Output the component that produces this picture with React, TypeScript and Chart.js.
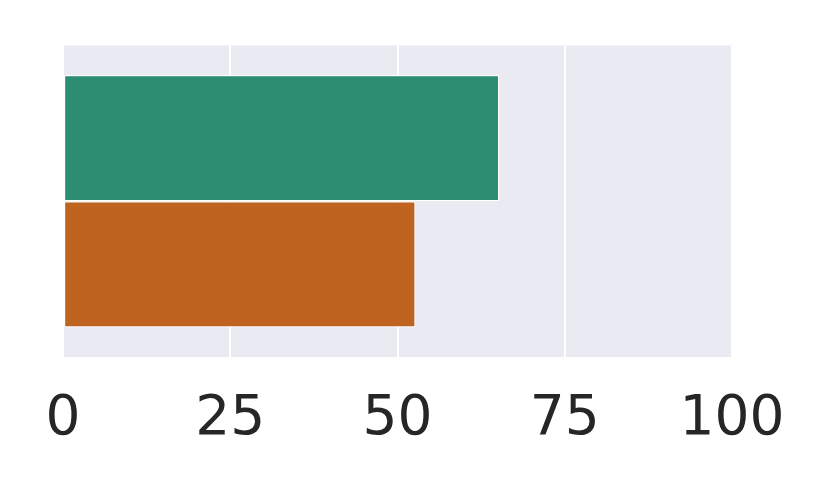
import React, { useEffect, useRef } from "react";
import { Chart, registerables } from "chart.js";

Chart.register(...registerables);

const categories = [""];
const seriesA = [65.2];
const seriesB = [52.7];
const xTicks = [0, 25, 50, 75, 100];

export default function App() {
  const ref = useRef<HTMLCanvasElement | null>(null);
  useEffect(() => {
    if (!ref.current) return;
    const chart = new Chart(ref.current, {
      type: "bar",
      data: {
        labels: categories,
        datasets: [
          {
            data: seriesA,
            backgroundColor: "#2c8d72",
            borderColor: "#ffffff",
            borderWidth: 1.2,
            borderSkipped: false,
            categoryPercentage: 0.81,
            barPercentage: 1.0,
          },
          {
            data: seriesB,
            backgroundColor: "#bf6420",
            borderColor: "#ffffff",
            borderWidth: 1.2,
            borderSkipped: false,
            categoryPercentage: 0.81,
            barPercentage: 1.0,
          },
        ],
      },
      options: {
        indexAxis: "y",
        responsive: false,
        animation: false,
        layout: { padding: { left: 63, right: 98, top: 45.5, bottom: 0 } },
        plugins: {
          legend: { display: false },
          tooltip: { enabled: false },
        },
        scales: {
          x: {
            min: 0,
            max: 100,
            afterBuildTicks: (scale: any) => {
              scale.ticks = xTicks.map((v) => ({ value: v }));
            },
            afterFit: (scale: any) => {
              scale.height = 141;
            },
            grid: {
              color: "#ffffff",
              lineWidth: 2,
              drawTicks: false,
            },
            border: { display: false },
            ticks: {
              padding: 30,
              color: "#262626",
              font: { family: "DejaVu Sans", size: 55 },
              maxRotation: 0,
            },
          },
          y: {
            display: false,
            grid: { display: false },
          },
        },
      },
      plugins: [
        {
          id: "bg",
          beforeDraw: (c: any) => {
            const { ctx, chartArea } = c;
            ctx.save();
            ctx.fillStyle = "#eaeaf2";
            ctx.fillRect(
              chartArea.left,
              chartArea.top,
              chartArea.right - chartArea.left,
              chartArea.bottom - chartArea.top
            );
            ctx.restore();
          },
        },
      ],
    });
    return () => chart.destroy();
  }, []);
  return (
    <div style={{ position: "fixed", left: 0, top: 0, width: 830, height: 498, background: "#fff" }}>
      <canvas ref={ref} width={830} height={498} style={{ display: "block" }} />
    </div>
  );
}
